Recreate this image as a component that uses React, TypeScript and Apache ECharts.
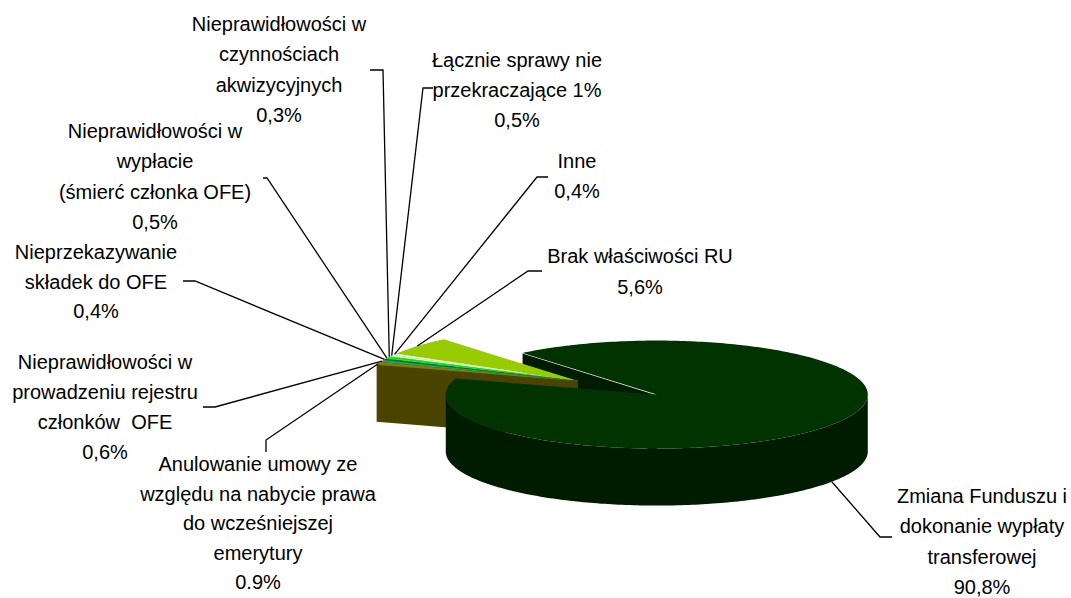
import React, { useEffect, useRef } from "react";
import * as echarts from "echarts";

// ---- data (clockwise order, starting with the exploded slice) ----
const categories: string[] = [
  "Zmiana Funduszu i\ndokonanie wypłaty\ntransferowej",
  "Anulowanie umowy ze\nwzględu na nabycie prawa\ndo wcześniejszej\nemerytury",
  "Nieprawidłowości w\nprowadzeniu rejestru\nczłonków  OFE",
  "Nieprzekazywanie\nskładek do OFE",
  "Nieprawidłowości w\nwypłacie\n(śmierć członka OFE)",
  "Nieprawidłowości w\nczynnościach\nakwizycyjnych",
  "Łącznie sprawy nie\nprzekraczające 1%",
  "Inne",
  "Brak właściwości RU",
];
const values: number[] = [90.8, 0.9, 0.6, 0.4, 0.5, 0.3, 0.5, 0.4, 5.6];
const valueLabels: string[] = ["90,8%", "0.9%", "0,6%", "0,4%", "0,5%", "0,3%", "0,5%", "0,4%", "5,6%"];
const explode: number[] = [0.45, 0, 0, 0, 0, 0, 0, 0, 0];

// ---- styles / layout ----
const colors: string[] = ["#003300", "#808000", "#339966", "#006633", "#00ff00", "#33cc33", "#ccffcc", "#f4fff4", "#99cc00"];
const sideColors: string[] = ["#001c00", "#4b4300", "#1f5c3d", "#003d1f", "#009900", "#1f7a1f", "#7a997a", "#9a9a9a", "#8a9900"];
const labelX: number[] = [982, 258, 105, 96, 155, 279, 517, 577, 640];
const labelFirstY: number[] = [496, 464, 362, 252, 131, 24, 60, 161, 256];
const labelLineH: number[] = [30.3, 29.5, 30, 29.5, 30.3, 30.3, 30, 30, 30.5];
const leaderElbow: number[][] = [[880, 537], [266, 440], [215, 407], [195, 281], [267, 178], [383, 70], [423, 88], [537, 177], [528, 271]];
const leaderEnd: number[][] = [[892, 537], [266, 452], [203, 407], [183, 281], [263, 178], [370, 70], [433, 88], [548, 177], [542, 271]];

const CX = 578;
const CY = 381;
const RX = 211;
const RY = 54;
const DEPTH = 57;
const START = 129.5;
const FONT = "20px Liberation Sans";

const rad = (d: number) => (d * Math.PI) / 180;

function sliceAngles() {
  const total = values.reduce((a, b) => a + b, 0);
  const res: { a0: number; a1: number }[] = [];
  let a = START;
  for (const v of values) {
    const span = (v / total) * 360;
    res.push({ a0: a, a1: a - span });
    a -= span;
  }
  return res;
}

function sliceCenter(i: number, a0: number, a1: number) {
  const mid = (a0 + a1) / 2;
  const e = explode[i];
  return [CX + RX * e * Math.cos(rad(mid)), CY - RY * e * Math.sin(rad(mid))];
}

const drawRank: number[] = [20, 9, 8, 7, 6, 5, 4, 3, 2];

export default function App() {
  const ref = useRef<HTMLDivElement>(null);
  useEffect(() => {
    if (!ref.current) return;
    const chart = echarts.init(ref.current, undefined, { renderer: "svg" });
    const angles = sliceAngles();

    const renderItem = (params: any, api: any) => {
      const i = params.dataIndex;
      const { a0, a1 } = angles[i];
      const e = explode[i];
      const [cx, cy] = sliceCenter(i, a0, a1);
      const rim = (t: number, d = 0) => [cx + RX * Math.cos(rad(t)), cy - RY * Math.sin(rad(t)) + d];
      const base = drawRank[i] * 10;
      const children: any[] = [];

      const arc: number[] = [];
      const steps = Math.max(2, Math.ceil((a0 - a1) / 1));
      for (let k = 0; k <= steps; k++) arc.push(a0 - ((a0 - a1) * k) / steps);

      if (Math.cos(rad(a0)) < 0) {
        const p = rim(a0);
        children.push({
          type: "polygon", z2: e > 0 ? 1 : base + 1,
          shape: { points: [[cx, cy], p, [p[0], p[1] + DEPTH], [cx, cy + DEPTH]] },
          style: { fill: sideColors[i] },
        });
        if (e > 0) {
          children.push({
            type: "line", z2: 2,
            shape: { x1: cx, y1: cy, x2: p[0], y2: p[1] },
            style: { stroke: "#ffffff", lineWidth: 1.3 },
          });
        }
      }
      if (Math.cos(rad(a1)) > 0) {
        const p = rim(a1);
        children.push({
          type: "polygon", z2: e > 0 ? 1 : base + 1,
          shape: { points: [[cx, cy], p, [p[0], p[1] + DEPTH], [cx, cy + DEPTH]] },
          style: { fill: sideColors[i] },
        });
      }
      let run: number[] = [];
      const flush = () => {
        if (run.length > 1) {
          const top = run.map((t) => rim(t));
          const bot = run.slice().reverse().map((t) => rim(t, DEPTH));
          children.push({
            type: "polygon", z2: base + 2,
            shape: { points: top.concat(bot) },
            style: { fill: sideColors[i] },
          });
        }
        run = [];
      };
      for (const t of arc) {
        if (Math.sin(rad(t)) <= 0.0001) run.push(t);
        else flush();
      }
      flush();
      children.push({
        type: "polygon", z2: base + 3,
        shape: { points: [[cx, cy]].concat(arc.map((t) => rim(t))) },
        style: { fill: colors[i] },
      });
      return { type: "group", children };
    };

    const graphics: any[] = [];
    values.forEach((_, i) => {
      const { a0, a1 } = angles[i];
      const mid = (a0 + a1) / 2;
      const [cx, cy] = sliceCenter(i, a0, a1);
      const anchor = [
        cx + RX * Math.cos(rad(mid)),
        cy - RY * Math.sin(rad(mid)) + (explode[i] > 0 ? DEPTH : 0),
      ];
      graphics.push({
        type: "polyline",
        z: 100,
        shape: { points: [anchor, leaderElbow[i], leaderEnd[i]] },
        style: { stroke: "#000000", lineWidth: 1.3, fill: null },
      });
      graphics.push({
        type: "text",
        z: 101,
        x: labelX[i],
        y: labelFirstY[i] - labelLineH[i] / 2,
        style: {
          text: categories[i] + "\n" + valueLabels[i],
          fill: "#000000",
          font: FONT,
          lineHeight: labelLineH[i],
          textAlign: "center",
          textVerticalAlign: "top",
        },
      });
    });

    chart.setOption({
      animation: false,
      backgroundColor: "#ffffff",
      graphic: graphics,
      series: [
        {
          type: "custom",
          coordinateSystem: "none",
          data: values.map((v, k) => ({ value: [v], name: categories[k] })),
          renderItem,
          silent: true,
        },
      ],
    });
    return () => chart.dispose();
  }, []);
  return (
    <div
      ref={ref}
      style={{ position: "fixed", left: 0, top: 0, width: 1071, height: 598, background: "#fff" }}
    />
  );
}
